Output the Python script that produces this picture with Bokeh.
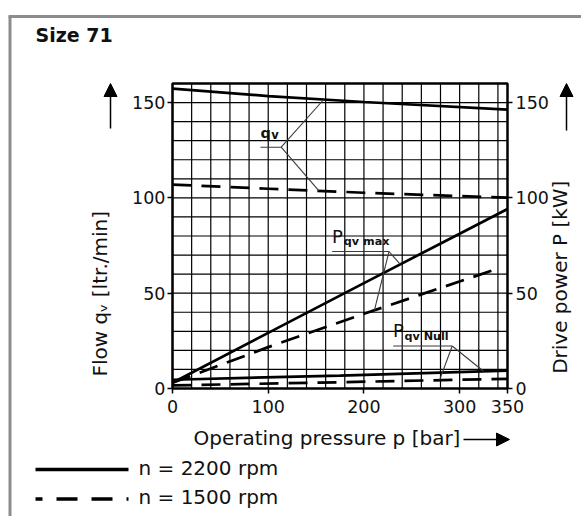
import math
import numpy as np
from bokeh.plotting import figure
from bokeh.models import Range1d, LinearAxis, FixedTicker, Label, Arrow, NormalHead
from bokeh.embed import file_html
from bokeh.resources import INLINE

# Operating pressure p [bar] and the curves read against it
p_flow = [0, 100, 200, 350]
q_2200 = [157.3, 153.4, 150.3, 146.3]        # flow qv, n = 2200 rpm [ltr./min]
q_1500 = [107.0, 104.8, 102.7, 100.1]        # flow qv, n = 1500 rpm [ltr./min]

p_pmax_2200 = [0, 100, 200, 300, 350]
pmax_2200 = [3.0, 29.2, 55.3, 81.2, 94.2]    # drive power at qv max, 2200 rpm [kW]
p_pmax_1500 = [0, 100, 200, 340]
pmax_1500 = [3.0, 21.7, 39.2, 62.9]          # drive power at qv max, 1500 rpm [kW]

p_null = [0, 175, 350]
pnull_2200 = [4.6, 6.8, 9.4]                 # drive power at zero stroke, 2200 rpm [kW]
pnull_1500 = [1.6, 3.3, 5.1]                 # drive power at zero stroke, 1500 rpm [kW]

x_ticks = [0, 100, 200, 300, 350]
y_ticks = [0, 50, 100, 150]
x_grid = list(range(0, 350, 20))
y_grid = list(range(0, 160, 10))
XMAX, YMAX = 350, 160

FONT = "DejaVu Sans"
INK = "#111111"

# Canvas geometry: the chart box sits at these pixel edges inside the page
CW, CH = 581, 516
L, R, T, B = 172, 507, 83, 388


def dx(px):
    """canvas x (px) -> pressure units"""
    return (px - L) * XMAX / (R - L)


def dy(py):
    """canvas y (px, from top) -> value units"""
    return (B - py) * YMAX / (B - T)


# The frame spans the whole canvas so that titles, arrows and the key can be
# placed around the chart box in the same coordinates.
p = figure(width=CW, height=CH, title=None,
           x_range=Range1d(dx(0), dx(CW)), y_range=Range1d(dy(CH), dy(0)),
           output_backend="svg", toolbar_location=None, min_border=0)
p.background_fill_color = "white"
p.border_fill_color = "white"
p.outline_line_color = None
p.xgrid.visible = False
p.ygrid.visible = False

# axes pinned to the chart box
p.xaxis.ticker = FixedTicker(ticks=x_ticks)
p.xaxis.fixed_location = 0
p.xaxis.bounds = (0, XMAX)
p.yaxis.ticker = FixedTicker(ticks=y_ticks)
p.yaxis.fixed_location = 0
p.yaxis.bounds = (0, YMAX)
right_axis = LinearAxis(ticker=FixedTicker(ticks=y_ticks), fixed_location=XMAX, bounds=(0, YMAX))
p.add_layout(right_axis, "right")
for ax, standoff in ((p.xaxis[0], 6), (p.yaxis[0], 2), (right_axis, 3)):
    ax.axis_line_color = None
    ax.major_tick_out = 5
    ax.major_tick_in = 0
    ax.minor_tick_out = 0
    ax.minor_tick_in = 0
    ax.major_tick_line_color = "black"
    ax.major_tick_line_width = 1.5
    ax.major_label_text_font = FONT
    ax.major_label_text_font_size = "17.5px"
    ax.major_label_text_color = INK
    ax.major_label_standoff = standoff

# grid
p.segment(x0=x_grid, y0=[0] * len(x_grid), x1=x_grid, y1=[YMAX] * len(x_grid),
          line_color="black", line_width=1.2)
p.segment(x0=[0] * len(y_grid), y0=y_grid, x1=[XMAX] * len(y_grid), y1=y_grid,
          line_color="black", line_width=1.2)

# curves
LW = 2.7
DASH = "19 10"
p.line(p_flow, q_2200, line_width=LW, line_color="black")
p.line(p_flow, q_1500, line_width=LW, line_color="black", line_dash=DASH)
p.line(p_pmax_2200, pmax_2200, line_width=LW, line_color="black")
p.line(p_pmax_1500, pmax_1500, line_width=LW, line_color="black", line_dash=DASH)
p.line(p_null, pnull_2200, line_width=LW, line_color="black")
p.line(p_null, pnull_1500, line_width=LW, line_color="black", line_dash=DASH)

# chart box
p.quad(left=[0], right=[XMAX], bottom=[0], top=[YMAX], fill_color=None,
       line_color="black", line_width=2.5)


def leader(label_left, label_right, label_y, targets):
    """underline under a curve label plus pointer lines to the curves"""
    xs0 = [label_left]
    ys0 = [label_y]
    xs1 = [label_right]
    ys1 = [label_y]
    for px_, py_ in targets:
        xs0.append(label_right)
        ys0.append(label_y)
        xs1.append(px_)
        ys1.append(py_)
    p.segment(xs0, ys0, xs1, ys1, line_color="#3a3a3a", line_width=1.1)


def text(cx, cy, s, size, bold=False, vertical=False, **kw):
    """text whose baseline sits at canvas pixel (cx, cy)"""
    lift = 0.43 * size
    if vertical:
        cx -= lift
        kw["angle"] = math.pi / 2
    else:
        cy -= lift
    p.add_layout(Label(x=dx(cx), y=dy(cy), text=s, text_font=FONT,
                       text_font_size=f"{size}px",
                       text_font_style="bold" if bold else "normal", text_color=INK,
                       text_baseline="alphabetic", **kw))


# qv labels
leader(dx(260), dx(280.7), dy(146.7),
       [(158, float(np.interp(158, p_flow, q_2200))),
        (153, float(np.interp(153, p_flow, q_1500)))])
text(260, 138.5, "q", 14.5, bold=True)
text(270.8, 139.3, "v", 11.5, bold=True)

# P qv max labels
leader(dx(331.7), dx(388.5), dy(251),
       [(238, float(np.interp(238, p_pmax_2200, pmax_2200))),
        (211, float(np.interp(211, p_pmax_1500, pmax_1500)))])
text(331.5, 243.3, "P", 18)
text(343.3, 246, "qv max", 11.2, bold=True)

# P qv Null labels
leader(dx(392.7), dx(451.7), dy(345.5),
       [(325, float(np.interp(325, p_null, pnull_2200))),
        (279, float(np.interp(279, p_null, pnull_1500)))])
text(392.5, 338, "P", 18)
text(404, 340.5, "qv Null", 11.2, bold=True)

# title
text(35, 43, "Size 71", 19, bold=True)

# axis titles
text(108.3, 293.3, "Flow q\u1d65 [ltr./min]", 20, vertical=True, text_align="center")
text(568.3, 276.7, "Drive power P [kW]", 20, vertical=True, text_align="center")
text(193, 446, "Operating pressure p [bar]", 20)


# direction arrows
def head():
    return NormalHead(size=13, fill_color="black", line_color="black", line_width=1)


p.add_layout(Arrow(end=head(), x_start=dx(110), y_start=dy(128), x_end=dx(110), y_end=dy(83),
                   line_width=1.5, line_color="black"))
p.add_layout(Arrow(end=head(), x_start=dx(566), y_start=dy(130), x_end=dx(566), y_end=dy(83),
                   line_width=1.5, line_color="black"))
p.add_layout(Arrow(end=head(), x_start=dx(463), y_start=dy(439), x_end=dx(509), y_end=dy(439),
                   line_width=1.5, line_color="black"))

# speed key
p.add_layout(Arrow(end=None, x_start=dx(35), y_start=dy(469), x_end=dx(128), y_end=dy(469),
                   line_width=3.5, line_color="black"))
p.add_layout(Arrow(end=None, x_start=dx(35), y_start=dy(498.5), x_end=dx(128), y_end=dy(498.5),
                   line_width=3.5, line_color="black", line_dash="21 14", line_dash_offset=14))
text(138, 476.5, "n = 2200 rpm", 20)
text(138, 505, "n = 1500 rpm", 20)

# panel border
p.add_layout(Arrow(end=None, x_start=dx(9.5), y_start=dy(CH + 5), x_end=dx(9.5), y_end=dy(16),
                   line_width=3, line_color="#8c8c8c"))
p.add_layout(Arrow(end=None, x_start=dx(8), y_start=dy(16), x_end=dx(CW + 5), y_end=dy(16),
                   line_width=3, line_color="#8c8c8c"))

open("out.html", "w").write(file_html(p, INLINE))
